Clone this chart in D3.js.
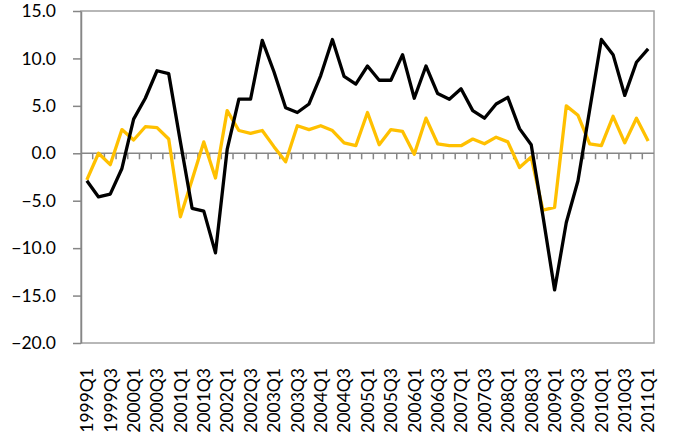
<!DOCTYPE html>
<html>
<head>
<meta charset="utf-8">
<script src="https://cdn.jsdelivr.net/npm/d3@7"></script>
<style>
  body { margin: 0; background: #fff; }
  svg text { font-family: Lato, "Open Sans", sans-serif; fill: #000; }
</style>
</head>
<body>
<div id="chart"></div>
<script>
// Quarterly categories shown on the x axis
const categories = [
    "1999Q1", "1999Q2", "1999Q3", "1999Q4",
    "2000Q1", "2000Q2", "2000Q3", "2000Q4",
    "2001Q1", "2001Q2", "2001Q3", "2001Q4",
    "2002Q1", "2002Q2", "2002Q3", "2002Q4",
    "2003Q1", "2003Q2", "2003Q3", "2003Q4",
    "2004Q1", "2004Q2", "2004Q3", "2004Q4",
    "2005Q1", "2005Q2", "2005Q3", "2005Q4",
    "2006Q1", "2006Q2", "2006Q3", "2006Q4",
    "2007Q1", "2007Q2", "2007Q3", "2007Q4",
    "2008Q1", "2008Q2", "2008Q3", "2008Q4",
    "2009Q1", "2009Q2", "2009Q3", "2009Q4",
    "2010Q1", "2010Q2", "2010Q3", "2010Q4",
    "2011Q1"
];

// Black series
const blackValues = [
    -2.9, -4.6, -4.3, -1.6, 3.6, 5.8, 8.7, 8.4, 1.2, -5.8, -6.1, -10.5,
    0.4, 5.7, 5.7, 11.9, 8.6, 4.8, 4.3, 5.2, 8.2, 12.0, 8.1, 7.3,
    9.2, 7.7, 7.7, 10.4, 5.8, 9.2, 6.3, 5.7, 6.8, 4.5, 3.7, 5.2,
    5.9, 2.6, 0.9, -6.6, -14.4, -7.3, -2.9, 4.6, 12.0, 10.4, 6.1, 9.6,
    11.0
];

// Gold series
const goldValues = [
    -2.8, 0.0, -1.2, 2.5, 1.4, 2.8, 2.7, 1.5, -6.7, -2.8, 1.2, -2.6,
    4.5, 2.4, 2.1, 2.4, 0.7, -0.9, 2.9, 2.5, 2.9, 2.4, 1.1, 0.8,
    4.3, 0.9, 2.5, 2.3, -0.1, 3.7, 1.0, 0.8, 0.8, 1.5, 1.0, 1.7,
    1.2, -1.5, -0.4, -6.0, -5.7, 5.0, 4.0, 1.0, 0.8, 3.9, 1.1, 3.7,
    1.3
];

const yTicks = [-20, -15, -10, -5, 0, 5, 10, 15];

const width = 674, height = 444;
const margin = {top: 11, right: 20, bottom: 101, left: 81};
const axisColor = "#868686";
const fontSize = "17.5px";

const svg = d3.select("#chart")
    .append("svg")
    .attr("width", width)
    .attr("height", height);

const xScale = d3.scaleBand()
    .domain(categories)
    .range([margin.left, width - margin.right])
    .padding(0);

const yScale = d3.scaleLinear()
    .domain([-20, 15])
    .range([height - margin.bottom, margin.top]);

const xMid = (d) => xScale(d) + xScale.bandwidth() / 2;

// Plot area border
svg.append("rect")
    .attr("x", margin.left)
    .attr("y", margin.top)
    .attr("width", width - margin.left - margin.right)
    .attr("height", height - margin.top - margin.bottom)
    .attr("fill", "none")
    .attr("stroke", "#a0a0a0")
    .attr("stroke-width", 1.5);

// Y axis
const yAxis = d3.axisLeft(yScale)
    .tickValues(yTicks)
    .tickSizeInner(8)
    .tickSizeOuter(0)
    .tickPadding(17)
    .tickFormat(d3.format(".1f"));

svg.append("g")
    .attr("class", "yAxis")
    .attr("transform", "translate(" + margin.left + ",0)")
    .call(yAxis)
    .call(g => g.selectAll("path, line").attr("stroke", axisColor).attr("stroke-width", 1.5))
    .call(g => g.selectAll("text").style("font-size", fontSize));

// X axis labels (every second quarter) along the bottom
const labelCats = categories.filter((d, i) => i % 2 === 0);
const xAxis = d3.axisBottom(xScale)
    .tickValues(labelCats)
    .tickSize(0);

svg.append("g")
    .attr("class", "xAxis")
    .attr("transform", "translate(0," + (height - margin.bottom) + ")")
    .call(xAxis)
    .call(g => g.select(".domain").remove())
    .call(g => g.selectAll("text")
        .style("font-size", fontSize)
        .attr("transform", "rotate(-90)")
        .attr("text-anchor", "end")
        .attr("x", -25)
        .attr("y", 0)
        .attr("dy", "0.36em"));

// Zero line with category tick marks
const zeroY = yScale(0);
svg.append("line")
    .attr("x1", margin.left)
    .attr("x2", width - margin.right)
    .attr("y1", zeroY)
    .attr("y2", zeroY)
    .attr("stroke", axisColor)
    .attr("stroke-width", 1.5);

svg.selectAll(".zeroTick")
    .data(categories.slice(1))
    .join("line")
    .attr("class", "zeroTick")
    .attr("x1", (d) => xScale(d))
    .attr("x2", (d) => xScale(d))
    .attr("y1", zeroY)
    .attr("y2", zeroY + 6)
    .attr("stroke", axisColor)
    .attr("stroke-width", 1.5);

// Lines
const line = d3.line()
    .x((d) => xMid(d.cat))
    .y((d) => yScale(d.value));

const goldData = categories.map((c, i) => ({cat: c, value: goldValues[i]}));
const blackData = categories.map((c, i) => ({cat: c, value: blackValues[i]}));

svg.append("path")
    .datum(goldData)
    .attr("fill", "none")
    .attr("stroke", "#FFC000")
    .attr("stroke-width", 3.3)
    .attr("stroke-linejoin", "round")
    .attr("d", line);

svg.append("path")
    .datum(blackData)
    .attr("fill", "none")
    .attr("stroke", "#000")
    .attr("stroke-width", 3.3)
    .attr("stroke-linejoin", "round")
    .attr("d", line);
</script>
</body>
</html>
